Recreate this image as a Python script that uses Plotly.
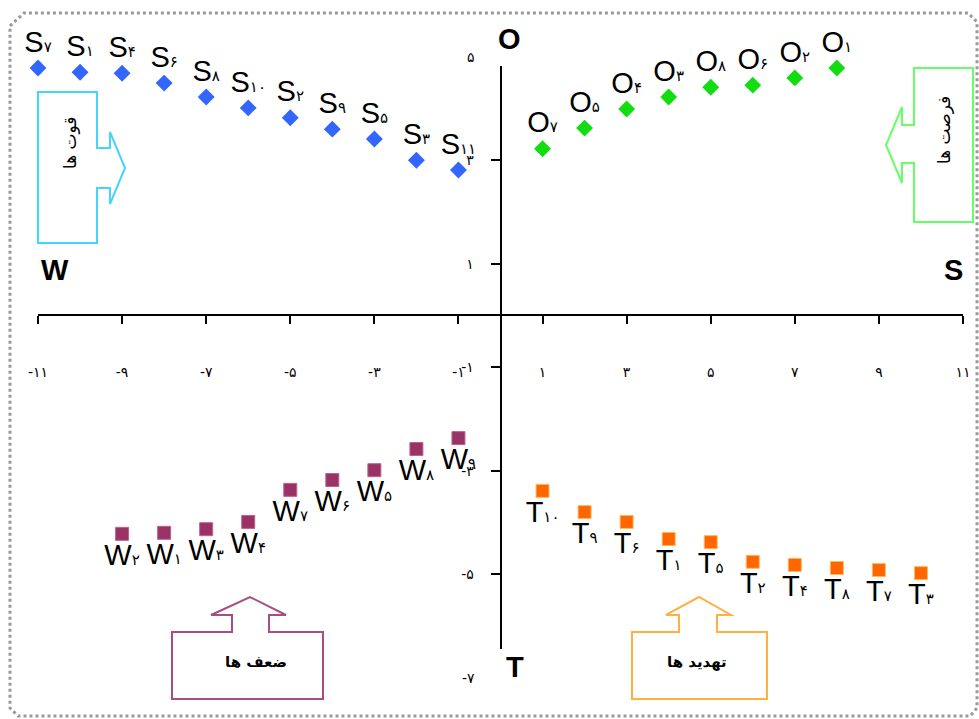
import plotly.graph_objects as go

# ---------------- data ----------------
S_x = [-11, -10, -9, -8, -7, -6, -5, -4, -3, -2, -1]
S_y = [4.78, 4.70, 4.68, 4.49, 4.22, 4.01, 3.82, 3.60, 3.41, 3.00, 2.81]
S_labels = ["S۷", "S۱", "S۴", "S۶", "S۸", "S۱۰", "S۲", "S۹", "S۵", "S۳", "S۱۱"]

O_x = [1, 2, 3, 4, 5, 6, 7, 8]
O_y = [3.22, 3.62, 3.99, 4.22, 4.41, 4.45, 4.59, 4.78]
O_labels = ["O۷", "O۵", "O۴", "O۳", "O۸", "O۶", "O۲", "O۱"]

W_x = [-9, -8, -7, -6, -5, -4, -3, -2, -1]
W_y = [-4.22, -4.20, -4.13, -3.99, -3.37, -3.18, -2.99, -2.58, -2.37]
W_labels = ["W۲", "W۱", "W۳", "W۴", "W۷", "W۶", "W۵", "W۸", "W۹"]

T_x = [1, 2, 3, 4, 5, 6, 7, 8, 9, 10]
T_y = [-3.39, -3.80, -3.99, -4.32, -4.38, -4.76, -4.82, -4.88, -4.92, -4.98]
T_labels = ["T۱۰", "T۹", "T۶", "T۱", "T۵", "T۲", "T۴", "T۸", "T۷", "T۳"]

X_TICKS = [-11, -9, -7, -5, -3, -1, 1, 3, 5, 7, 9, 11]
Y_TICKS = [5, 3, 1, -1, -3, -5, -7]
FA = "۰۱۲۳۴۵۶۷۸۹"

QUAD = {"O": (509, 39), "W": (55, 270), "S": (953, 270), "T": (515, 667)}
BOX_TEXT = {"weak": "ضعف ها", "threat": "تهدید ها", "strength": "قوت ها", "opp": "فرصت ها"}

# ---------------- layout helpers ----------------
FW, FH = 979, 719
X_RANGE = [-11, 11]
Y_RANGE = [-6.445, 4.82]
XDOM_PX = (38, 963)
YDOM_PX = (66, 649)  # top, bottom pixel


def fa(v):
    s = "".join(FA[int(c)] for c in str(abs(v)))
    return ("-" + s) if v < 0 else s


def px(x):
    return x / FW


def py(y):
    return 1 - y / FH


xdom = [px(XDOM_PX[0]), px(XDOM_PX[1])]
ydom = [py(YDOM_PX[1]), py(YDOM_PX[0])]


def data_to_paper_x(v):
    return xdom[0] + (v - X_RANGE[0]) / (X_RANGE[1] - X_RANGE[0]) * (xdom[1] - xdom[0])


def data_to_paper_y(v):
    return ydom[0] + (v - Y_RANGE[0]) / (Y_RANGE[1] - Y_RANGE[0]) * (ydom[1] - ydom[0])


def lab(t):
    return f"{t[0]}<span style='font-size:15px'>{t[1:]}</span>"


def path(pts, close=True):
    s = "M " + " L ".join(f"{px(x):.5f},{py(y):.5f}" for x, y in pts)
    return s + (" Z" if close else "")


def note(x, y, text, font, **kw):
    fig.add_annotation(x=px(x), y=py(y), xref="paper", yref="paper", text=text,
                       showarrow=False, xanchor="center", yanchor="middle", font=font, **kw)


fig = go.Figure()

LBL_FONT = dict(family="Liberation Sans, DejaVu Sans", size=29, color="black")

fig.add_trace(go.Scatter(x=S_x, y=S_y, mode="markers+text", text=[lab(t) for t in S_labels],
                         textposition="top center", textfont=LBL_FONT, cliponaxis=False,
                         marker=dict(symbol="diamond", size=13, color="#3366FF")))
fig.add_trace(go.Scatter(x=O_x, y=O_y, mode="markers+text", text=[lab(t) for t in O_labels],
                         textposition="top center", textfont=LBL_FONT, cliponaxis=False,
                         marker=dict(symbol="diamond", size=13, color="#11DD11")))
fig.add_trace(go.Scatter(x=W_x, y=W_y, mode="markers+text", text=[lab(t) for t in W_labels],
                         textposition="bottom center", textfont=LBL_FONT, cliponaxis=False,
                         marker=dict(symbol="square", size=13, color="#993366",
                                     line=dict(color="#C0608F", width=1))))
fig.add_trace(go.Scatter(x=T_x, y=T_y, mode="markers+text", text=[lab(t) for t in T_labels],
                         textposition="bottom center", textfont=LBL_FONT, cliponaxis=False,
                         marker=dict(symbol="square", size=13, color="#FF6600",
                                     line=dict(color="#FFB860", width=1))))

xaxis_pos = data_to_paper_y(0)
yaxis_pos = data_to_paper_x(0)

TICK_FONT = dict(family="DejaVu Sans", size=14, color="black")

fig.update_layout(
    width=FW, height=FH,
    margin=dict(l=0, r=0, t=0, b=0, autoexpand=False),
    paper_bgcolor="white", plot_bgcolor="rgba(0,0,0,0)",
    showlegend=False,
    xaxis=dict(range=X_RANGE, domain=xdom, anchor="free", position=xaxis_pos,
               tickvals=X_TICKS, ticktext=[fa(v) for v in X_TICKS],
               ticks="outside", ticklen=8, tickwidth=1.5, tickcolor="black",
               showline=True, linecolor="black", linewidth=1.6,
               showgrid=False, zeroline=False, tickfont=TICK_FONT,
               ticklabelstandoff=36, automargin=False),
    yaxis=dict(range=Y_RANGE, domain=ydom, anchor="free", position=yaxis_pos,
               tickvals=Y_TICKS, ticktext=[fa(v) for v in Y_TICKS],
               ticks="outside", ticklen=9, tickwidth=1.5, tickcolor="black",
               showline=True, linecolor="black", linewidth=1.6,
               showgrid=False, zeroline=False, tickfont=TICK_FONT,
               ticklabelstandoff=14, automargin=False),
)

# tick labels that lie beyond the drawn axis span
for v in Y_TICKS:
    if not (Y_RANGE[0] <= v <= Y_RANGE[1]):
        fig.add_annotation(x=px(477), y=data_to_paper_y(v), xref="paper", yref="paper",
                           text=fa(v), showarrow=False, xanchor="right", yanchor="middle",
                           font=TICK_FONT)

# quadrant letters
for k, (x, y) in QUAD.items():
    note(x, y, f"<b>{k}</b>", dict(family="Liberation Sans", size=29, color="black"))

# callout boxes
cyan = [(38, 92), (97, 92), (97, 148), (110, 148), (110, 132), (125, 168), (110, 204),
        (110, 188), (97, 188), (97, 243), (38, 243)]
green = [(914, 68), (973, 68), (973, 222), (914, 222), (914, 163), (902, 163), (902, 183),
         (886, 145), (902, 107), (902, 125), (914, 125)]
maroon = [(172, 632), (232, 632), (232, 615), (211, 615), (250, 597), (286, 615), (269, 615),
          (269, 632), (323, 632), (323, 699), (172, 699)]
orange = [(632, 632), (679, 632), (679, 615), (666, 615), (699, 597), (731, 615), (717, 615),
          (717, 632), (767, 632), (767, 699), (632, 699)]
for pts, col in [(cyan, "#44D4FF"), (green, "#66FF66"), (maroon, "#A84D80"), (orange, "#FFB040")]:
    fig.add_shape(type="path", path=path(pts), xref="paper", yref="paper",
                  line=dict(color=col, width=2), fillcolor="rgba(0,0,0,0)")

BOX_FONT = dict(family="DejaVu Sans", size=15, color="black")
note(256, 662, "<b>" + BOX_TEXT["weak"] + "</b>", BOX_FONT)
note(697, 662, "<b>" + BOX_TEXT["threat"] + "</b>", BOX_FONT)
note(70, 143, BOX_TEXT["strength"], dict(family="DejaVu Sans", size=17, color="black"), textangle=-90)
note(944, 130, BOX_TEXT["opp"], dict(family="DejaVu Sans", size=17, color="black"), textangle=-90)

# outer frame
frame = [(10, 26), (24, 13), (968, 13), (977, 22), (977, 708), (970, 716), (18, 716), (10, 708)]
fig.add_shape(type="path", path=path(frame), xref="paper", yref="paper",
              line=dict(color="#9a9a9a", width=3, dash="dot"), fillcolor="rgba(0,0,0,0)")

fig.write_html("out.html", config={"displayModeBar": False},
               post_script="document.body.style.margin='0px';")
